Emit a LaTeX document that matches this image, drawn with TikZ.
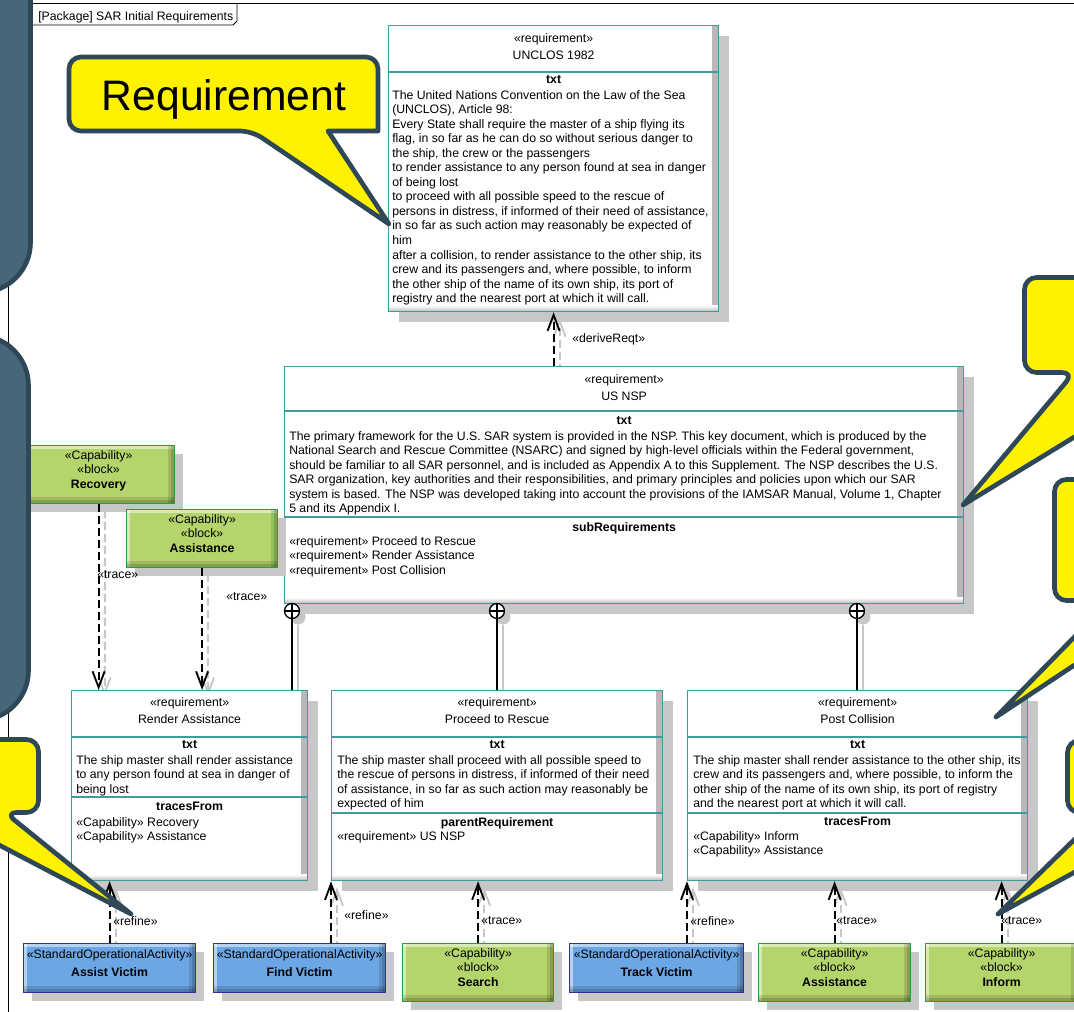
\documentclass[tikz,border=0pt]{standalone}
\usepackage{fontspec}
\setmainfont{Liberation Sans}
\usetikzlibrary{arrows.meta,shadows}
\pgfdeclarelayer{back}
\pgfsetlayers{back,main}

\definecolor{reqline}{RGB}{64,156,156}
\definecolor{capfill}{RGB}{180,212,108}
\definecolor{capline}{RGB}{51,153,51}
\definecolor{actfill}{RGB}{108,166,228}
\definecolor{actline}{RGB}{48,48,150}
\definecolor{noteline}{RGB}{46,72,88}
\definecolor{notedark}{RGB}{70,102,122}

\newcommand{\sarfont}{\fontsize{9.2pt}{10.9pt}\selectfont}
% a relationship, with its grey ghost drawn one layer down
\newcommand{\dep}[3]{%
  \begin{pgfonlayer}{back}\draw[#1, ghost] (#2) -- (#3);\end{pgfonlayer}
  \draw[#1] (#2) -- (#3);}

\begin{document}
\begin{tikzpicture}[x=0.75pt, y=-0.75pt,
    every node/.style={font=\sarfont},
    boxsize/.style 2 args={minimum width=#1*0.75pt, minimum height=#2*0.75pt},
    reqbox/.style={draw=reqline, line width=0.9pt, fill=white, anchor=north west, inner sep=0,
      drop shadow={shadow xshift=7.5pt, shadow yshift=-7.5pt, fill=black!22, opacity=1},
      path picture={
        \shade[left color=white, right color=black!28]
          ([xshift=-4.5pt]path picture bounding box.north east) rectangle (path picture bounding box.south east);
        \shade[top color=white, bottom color=black!28]
          ([yshift=4.5pt]path picture bounding box.south west) rectangle (path picture bounding box.south east);}},
    bevel/.style={path picture={
        \fill[white, opacity=.5] (path picture bounding box.north west) rectangle ([yshift=-2.5pt]path picture bounding box.north east);
        \fill[white, opacity=.5] (path picture bounding box.north west) rectangle ([xshift=2.5pt]path picture bounding box.south west);
        \fill[black, opacity=.12] ([yshift=5pt]path picture bounding box.south west) rectangle (path picture bounding box.south east);
        \fill[black, opacity=.15] ([yshift=2.5pt]path picture bounding box.south west) rectangle (path picture bounding box.south east);
        \fill[black, opacity=.12] ([xshift=-5pt]path picture bounding box.north east) rectangle (path picture bounding box.south east);
        \fill[black, opacity=.15] ([xshift=-2.5pt]path picture bounding box.north east) rectangle (path picture bounding box.south east);}},
    blockbox/.style={draw=#1, line width=0.9pt, align=center, inner sep=0, anchor=north west, bevel,
      drop shadow={shadow xshift=6.5pt, shadow yshift=-6.5pt, fill=black!22, opacity=1},
      execute at end node={\rule[-7.6pt]{0pt}{0pt}}},
    capblk/.style={blockbox=capline, fill=capfill},
    actblk/.style={blockbox=actline, fill=actfill},
    head/.style={anchor=north, align=center, inner sep=0},
    ctitle/.style={anchor=north, inner sep=0, font=\sarfont\bfseries},
    body/.style={anchor=north west, align=left, inner sep=0},
    lbl/.style={anchor=west, inner sep=0},
    compline/.style={draw=reqline, line width=0.9pt},
    contain/.style={circle, draw, fill=white, line width=1pt, inner sep=0, minimum size=11.25pt,
      drop shadow={shadow xshift=4.5pt, shadow yshift=-4.5pt, fill=black!22, opacity=1},
      path picture={\draw[line width=0.8pt] (path picture bounding box.north) -- (path picture bounding box.south)
        (path picture bounding box.west) -- (path picture bounding box.east);}},
    dep/.style={line width=1.6pt, dash pattern=on 6pt off 3pt,
      -{Straight Barb[length=12pt, width=9pt, line width=1.4pt]}},
    own/.style={line width=1.4pt},
    ghost/.style={draw=black!22, transform canvas={shift={(4.5pt,-4.5pt)}}},
    note/.style={fill=yellow, draw=noteline, line width=3.5pt, line join=round},
    darknote/.style={fill=notedark, draw=noteline, line width=3.5pt, rounded corners=37.5pt},
    pkgline/.style={line width=0.6pt}
]
\useasboundingbox (0,0) rectangle (1074,1011);
\clip (0,0) rectangle (1074,1011);

% package frame and its tab
\draw[pkgline] (8,1020) -- (8,3) -- (1080,3);
\draw[pkgline] (8,25) -- (233,25) -- (237,21) -- (237,3);
\node[lbl] (pkg) at (38,17) {[Package] SAR Initial Requirements};

% UNCLOS 1982
\node[reqbox, boxsize={330}{286}] (unclos) at (388,25) {};
\draw[compline] (unclos.west |- 0,72) -- (unclos.east |- 0,72);
\node[head] (unclos-head) at (unclos.north |- 0,33) {«requirement»\\[2pt]UNCLOS 1982};
\node[ctitle] (unclos-ttl) at (unclos.north |- 0,75) {txt};
\node[body] (unclos-txt) at (392,90) {The United Nations Convention on the Law of the Sea\\
(UNCLOS), Article 98:\\
Every State shall require the master of a ship flying its\\
flag, in so far as he can do so without serious danger to\\
the ship, the crew or the passengers\\
to render assistance to any person found at sea in danger\\
of being lost\\
to proceed with all possible speed to the rescue of\\
persons in distress, if informed of their need of assistance,\\
in so far as such action may reasonably be expected of\\
him\\
after a collision, to render assistance to the other ship, its\\
crew and its passengers and, where possible, to inform\\
the other ship of the name of its own ship, its port of\\
registry and the nearest port at which it will call.};

% US NSP
\node[reqbox, boxsize={679}{237}] (nsp) at (284,366) {};
\draw[compline] (nsp.west |- 0,411) -- (nsp.east |- 0,411);
\draw[compline] (nsp.west |- 0,517) -- (nsp.east |- 0,517);
\node[head] (nsp-head) at (nsp.north |- 0,374) {«requirement»\\[2pt]US NSP};
\node[ctitle] (nsp-ttl) at (nsp.north |- 0,416) {txt};
\node[body] (nsp-txt) at (289,431) {The primary framework for the U.S. SAR system is provided in the NSP. This key document, which is produced by the\\
National Search and Rescue Committee (NSARC) and signed by high-level officials within the Federal government,\\
should be familiar to all SAR personnel, and is included as Appendix A to this Supplement. The NSP describes the U.S.\\
SAR organization, key authorities and their responsibilities, and primary principles and policies upon which our SAR\\
system is based. The NSP was developed taking into account the provisions of the IAMSAR Manual, Volume 1, Chapter\\
5 and its Appendix I.};
\node[ctitle] (nsp-subttl) at (nsp.north |- 0,522) {subRequirements};
\node[body] (nsp-sub) at (289,536) {«requirement» Proceed to Rescue\\«requirement» Render Assistance\\«requirement» Post Collision};

% Render Assistance
\node[reqbox, boxsize={236}{190}] (render) at (71,690) {};
\draw[compline] (render.west |- 0,737) -- (render.east |- 0,737);
\draw[compline] (render.west |- 0,797) -- (render.east |- 0,797);
\node[head] (render-head) at (render.north |- 0,697) {«requirement»\\[2pt]Render Assistance};
\node[ctitle] (render-ttl) at (render.north |- 0,740) {txt};
\node[body] (render-txt) at (76,755) {The ship master shall render assistance\\to any person found at sea in danger of\\being lost};
\node[ctitle] (render-trttl) at (render.north |- 0,802) {tracesFrom};
\node[body] (render-tr) at (76,817) {«Capability» Recovery\\«Capability» Assistance};

% Proceed to Rescue
\node[reqbox, boxsize={331}{190}] (proceed) at (331,690) {};
\draw[compline] (proceed.west |- 0,737) -- (proceed.east |- 0,737);
\draw[compline] (proceed.west |- 0,813) -- (proceed.east |- 0,813);
\node[head] (proceed-head) at (proceed.north |- 0,697) {«requirement»\\[2pt]Proceed to Rescue};
\node[ctitle] (proceed-ttl) at (proceed.north |- 0,740) {txt};
\node[body] (proceed-txt) at (337,755) {The ship master shall proceed with all possible speed to\\the rescue of persons in distress, if informed of their need\\of assistance, in so far as such action may reasonably be\\expected of him};
\node[ctitle] (proceed-parttl) at (proceed.north |- 0,817) {parentRequirement};
\node[body] (proceed-par) at (337,831) {«requirement» US NSP};

% Post Collision
\node[reqbox, boxsize={340}{190}] (postcol) at (687,690) {};
\draw[compline] (postcol.west |- 0,737) -- (postcol.east |- 0,737);
\draw[compline] (postcol.west |- 0,813) -- (postcol.east |- 0,813);
\node[head] (postcol-head) at (postcol.north |- 0,697) {«requirement»\\[2pt]Post Collision};
\node[ctitle] (postcol-ttl) at (postcol.north |- 0,740) {txt};
\node[body] (postcol-txt) at (693,755) {The ship master shall render assistance to the other ship, its\\crew and its passengers and, where possible, to inform the\\other ship of the name of its own ship, its port of registry\\and the nearest port at which it will call.};
\node[ctitle] (postcol-trttl) at (postcol.north |- 0,817) {tracesFrom};
\node[body] (postcol-tr) at (693,831) {«Capability» Inform\\«Capability» Assistance};

% capabilities and activities
\node[capblk, boxsize={152}{58}] (recovery) at (22,445) {«Capability»\\«block»\\\textbf{Recovery}};
\node[capblk, boxsize={151}{58}] (assistance) at (126,509) {«Capability»\\«block»\\\textbf{Assistance}};
\node[actblk, boxsize={172}{49}] (assistv) at (23,943) {«StandardOperationalActivity»\\[3pt]\textbf{Assist Victim}};
\node[actblk, boxsize={172}{49}] (findv) at (213,943) {«StandardOperationalActivity»\\[3pt]\textbf{Find Victim}};
\node[capblk, boxsize={151}{58}] (search) at (402,943) {«Capability»\\«block»\\\textbf{Search}};
\node[actblk, boxsize={174}{49}] (trackv) at (569,943) {«StandardOperationalActivity»\\[3pt]\textbf{Track Victim}};
\node[capblk, boxsize={152}{58}] (assist2) at (758,943) {«Capability»\\«block»\\\textbf{Assistance}};
\node[capblk, boxsize={152}{58}] (inform) at (925,943) {«Capability»\\«block»\\\textbf{Inform}};

% containment
\node[contain] (cp1) at (292,611) {};
\node[contain] (cp2) at (497,611) {};
\node[contain] (cp3) at (857,611) {};
\dep{own}{cp1}{render.north -| cp1}
\dep{own}{cp2}{proceed.north -| cp2}
\dep{own}{cp3}{postcol.north -| cp3}

% deriveReqt, trace, refine
\dep{dep}{nsp.north -| unclos.south}{unclos.south}
\dep{dep}{recovery.south}{render.north -| recovery.south}
\dep{dep}{assistance.south}{render.north -| assistance.south}
\dep{dep}{assistv.north}{render.south -| assistv.north}
\dep{dep}{findv.north -| proceed.south west}{proceed.south west}
\dep{dep}{search.north}{proceed.south -| search.north}
\dep{dep}{trackv.north -| postcol.south west}{postcol.south west}
\dep{dep}{assist2.north}{postcol.south -| assist2.north}
\dep{dep}{inform.north}{postcol.south -| inform.north}

\node[lbl] (lb-derive) at (572,339) {«deriveReqt»};
\node[lbl] (lb-rec) at (97,575) {«trace»};
\node[lbl] (lb-ass) at (226,597) {«trace»};
\node[lbl] (lb-av) at (113,921) {«refine»};
\node[lbl] (lb-fv) at (344,915) {«refine»};
\node[lbl] (lb-se) at (481,921) {«trace»};
\node[lbl] (lb-tv) at (690,921) {«refine»};
\node[lbl] (lb-as) at (836,921) {«trace»};
\node[lbl] (lb-in) at (1001,921) {«trace»};

% notes laid over the diagram
\draw[darknote] (-100,-100) rectangle (30.5,292.5);
\draw[darknote] (-100,335.5) rectangle (28.5,720.5);

\draw[note] (378,94) [rounded corners=9pt] -- (378,57) -- (69,57) -- (69,131) -- (252,131)
  [sharp corners] -- (389,224) -- (328,131) -- (378,131) [rounded corners=9pt] -- cycle;
\node[font=\fontsize{32pt}{36pt}\selectfont, anchor=base] (req-note) at (224,110) {Requirement};

\draw[note] (-150,780) [rounded corners=9pt] -- (-150,739.5) -- (38.5,739.5) -- (38.5,812.5) -- (5,812.5)
  [sharp corners] -- (131,914) -- (-63,812.5) -- (-150,812.5) [rounded corners=9pt] -- cycle;
\node[font=\fontsize{32pt}{36pt}\selectfont, anchor=base east] (refine-note) at (4,788) {e};

\draw[note] (1200,320) [rounded corners=9pt] -- (1200,277.5) -- (1024.5,277.5) -- (1024.5,372.5) -- (1074,372.5)
  [sharp corners] -- (963,505) -- (1180,372.5) -- (1200,372.5) [rounded corners=9pt] -- cycle;
\draw[note] (1200,540) [rounded corners=9pt] -- (1200,479.5) -- (1054.5,479.5) -- (1054.5,600.5) -- (1110,600.5)
  [sharp corners] -- (996,717) -- (1172,600.5) -- (1200,600.5) [rounded corners=9pt] -- cycle;
\draw[note] (1200,780) [rounded corners=9pt] -- (1200,740.5) -- (1067.5,740.5) -- (1067.5,812.5) -- (1102,812.5)
  [sharp corners] -- (998,914) -- (1184,812.5) -- (1200,812.5) [rounded corners=9pt] -- cycle;
\end{tikzpicture}
\end{document}
